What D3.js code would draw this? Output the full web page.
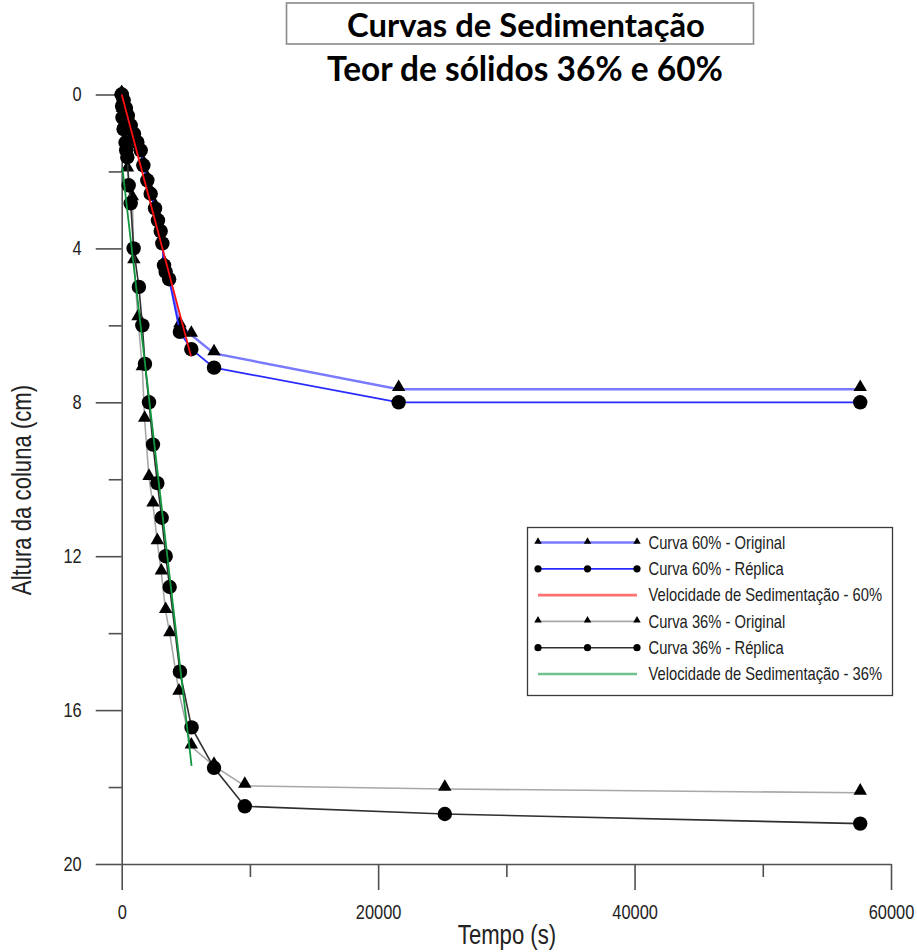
<!DOCTYPE html>
<html><head><meta charset="utf-8">
<script src="https://cdn.jsdelivr.net/npm/d3@7"></script>
<style>body{margin:0;background:#fff} svg{display:block}</style>
</head><body>
<svg id="c" width="917" height="952"></svg>
<script>
// ---------- data ----------
const xTicks = [0, 20000, 40000, 60000];
const xMinor = [10000, 30000, 50000];
const yTicks = [0, 4, 8, 12, 16, 20];
const yMinor = [2, 6, 10, 14, 18];

const t60Orig = [0, 150, 330, 480, 700, 960, 1220, 1480, 1690, 2000, 2260, 2600, 2830, 3040, 3170, 3300, 3430, 3700, 4540, 5430, 7200, 21600, 57600];
const h60Orig = [0, 0.15, 0.35, 0.55, 0.78, 1.0, 1.2, 1.42, 1.8, 2.2, 2.55, 2.92, 3.22, 3.5, 3.82, 4.4, 4.56, 4.75, 6.0, 6.25, 6.73, 7.66, 7.66];

const t60Rep = [0, 150, 330, 480, 700, 960, 1220, 1480, 1690, 2000, 2260, 2600, 2830, 3040, 3170, 3300, 3430, 3700, 4540, 5430, 7200, 21600, 57600];
const h60Rep = [0, 0.15, 0.35, 0.55, 0.8, 1.02, 1.24, 1.45, 1.84, 2.23, 2.58, 2.96, 3.27, 3.55, 3.87, 4.44, 4.61, 4.8, 6.17, 6.62, 7.1, 8.0, 8.0];

const tVel60 = [0, 5400];
const hVel60 = [0, 6.8];

const t36Orig = [0, 50, 120, 310, 450, 830, 950, 1270, 1610, 1790, 2130, 2440, 2780, 3090, 3430, 3760, 4470, 5430, 7200, 9600, 25200, 57600];
const h36Orig = [0, 0.4, 0.8, 1.27, 1.95, 2.7, 4.34, 5.82, 7.12, 8.46, 9.97, 10.66, 11.64, 12.43, 13.43, 14.03, 15.55, 16.95, 17.45, 17.97, 18.05, 18.15];

const t36Rep = [0, 30, 60, 150, 300, 350, 440, 545, 700, 930, 1340, 1610, 1815, 2130, 2440, 2780, 3120, 3430, 3740, 4540, 5450, 7200, 9600, 25200, 57600];
const h36Rep = [0, 0.3, 0.6, 0.9, 1.25, 1.45, 1.63, 2.36, 2.83, 4.0, 5.0, 6.0, 7.0, 8.0, 9.1, 10.1, 11.0, 12.0, 12.8, 15.0, 16.45, 17.5, 18.5, 18.7, 18.95];

const tVel36 = [50, 5450];
const hVel36 = [1.9, 17.45];

const legendLabels = ["Curva 60% - Original", "Curva 60% - Réplica", "Velocidade de Sedimentação - 60%",
                      "Curva 36% - Original", "Curva 36% - Réplica", "Velocidade de Sedimentação - 36%"];
const titleText = "Curvas de Sedimentação";
const subtitleText = "Teor de sólidos 36% e 60%";
const xTitle = "Tempo (s)";
const yTitle = "Altura da coluna (cm)";

// ---------- helpers ----------
function hasFont(name){
  const c = document.createElement('canvas').getContext('2d');
  c.font = "40px monospace"; const a = c.measureText("Velocidade 0123 mm").width;
  c.font = `40px '${name}', monospace`; const b = c.measureText("Velocidade 0123 mm").width;
  return Math.abs(a-b) > 1;
}
const NARROW = hasFont('Liberation Sans Narrow');
const NF = NARROW ? "'Liberation Sans Narrow', 'Liberation Sans', Arial, sans-serif" : "'Liberation Sans', Arial, sans-serif";
const SX = NARROW ? 1 : 0.82;

const zip = (ts, hs) => ts.map((t,i)=>({t, h: hs[i]}));

const svg = d3.select('#c');
const x = d3.scaleLinear().domain([0, 60000]).range([121.7, 891]);
const y = d3.scaleLinear().domain([0, 20]).range([94.5, 864]);

const AX = "#505050";

function ntext(parent, px, py, str, size, anchor, rot){
  const g = parent.append('g').attr('transform', `translate(${px},${py})` + (rot ? ` rotate(${rot})` : '') + ` scale(${SX},1)`);
  return g.append('text').attr('x',0).attr('y',0).attr('font-family', NF).attr('font-size', size)
    .attr('text-anchor', anchor).attr('fill', '#222').text(str);
}

// ---------- title ----------
svg.append('rect').attr('x', 286.5).attr('y', 3).attr('width', 467).attr('height', 41)
  .attr('fill', 'none').attr('stroke', '#8a8a8a').attr('stroke-width', 1.6);
function fit(sel, target){
  const w = sel.node().getComputedTextLength();
  sel.attr('font-size', parseFloat(sel.attr('font-size')) * target / w);
}
const t1 = svg.append('text').attr('x', 526).attr('y', 37).attr('text-anchor','middle')
  .attr('font-family', "Lato, 'Open Sans', sans-serif").attr('font-weight', 'bold').attr('font-size', 30).attr('fill','#000').text(titleText);
fit(t1, 358);
const t2 = svg.append('text').attr('x', 525).attr('y', 81).attr('text-anchor','middle')
  .attr('font-family', "Lato, 'Open Sans', sans-serif").attr('font-weight', 'bold').attr('font-size', 30).attr('fill','#000').text(subtitleText);
fit(t2, 396);

// ---------- axes ----------
function styleAxis(g){
  g.selectAll('path.domain').attr('stroke', AX).attr('stroke-width', 1.6);
  g.selectAll('.tick line').attr('stroke', AX).attr('stroke-width', 1.6);
}
const gx = svg.append('g').attr('transform', `translate(0,${y(20)})`);
gx.call(d3.axisBottom(x).tickValues(xTicks).tickSize(26).tickSizeOuter(0).tickPadding(15).tickFormat(d3.format('d')));
const gxm = svg.append('g').attr('transform', `translate(0,${y(20)})`);
gxm.call(d3.axisBottom(x).tickValues(xMinor).tickSize(13).tickSizeOuter(0).tickFormat(''));
gxm.select('path.domain').remove();
const gy = svg.append('g').attr('transform', `translate(${x(0)},0)`);
gy.call(d3.axisLeft(y).tickValues(yTicks).tickSize(26).tickSizeOuter(0).tickPadding(14).tickFormat(d3.format('d')));
const gym = svg.append('g').attr('transform', `translate(${x(0)},0)`);
gym.call(d3.axisLeft(y).tickValues(yMinor).tickSize(13).tickSizeOuter(0).tickFormat(''));
gym.select('path.domain').remove();
[gx, gxm, gy, gym].forEach(styleAxis);
[gx, gy].forEach(g => g.selectAll('.tick text').attr('font-family', NF).attr('font-size', 20).attr('fill', '#222'));
if (!NARROW){
  gx.selectAll('.tick text').attr('transform', `scale(${SX},1)`);
  gy.selectAll('.tick text').each(function(){ const s=d3.select(this); s.attr('x', parseFloat(s.attr('x'))/SX).attr('transform', `scale(${SX},1)`); });
}

ntext(svg, 507, 944, xTitle, 27, 'middle');
ntext(svg, 31, 490, yTitle, 27, 'middle', -90);

// ---------- series ----------
const line = d3.line().x(d=>x(d.t)).y(d=>y(d.h));
const tri = d3.symbol().type(d3.symbolTriangle);
const plot = svg.append('g');

const series = [
  {name: legendLabels[0], data: zip(t60Orig, h60Orig), color: '#7a7aff', width: 2.4, marker: 'tri'},
  {name: legendLabels[1], data: zip(t60Rep, h60Rep), color: '#2a2aff', width: 1.8, marker: 'circ'},
  {name: legendLabels[2], data: zip(tVel60, hVel60), color: '#ff1010', width: 1.8, marker: null},
  {name: legendLabels[3], data: zip(t36Orig, h36Orig), color: '#a8a8a8', width: 1.6, marker: 'tri'},
  {name: legendLabels[4], data: zip(t36Rep, h36Rep), color: '#303030', width: 1.6, marker: 'circ'},
  {name: legendLabels[5], data: zip(tVel36, hVel36), color: '#12973f', width: 1.8, marker: null},
];

function drawMarkers(g, data, type){
  if (type === 'circ'){
    g.selectAll(null).data(data).join('circle').attr('cx', d=>x(d.t)).attr('cy', d=>y(d.h)).attr('r', 7.2).attr('fill', '#000');
  } else if (type === 'tri'){
    g.selectAll(null).data(data).join('path').attr('d', tri.size(78)()).attr('transform', d=>`translate(${x(d.t)},${y(d.h)-2})`).attr('fill', '#000');
  }
}

series.filter(s => s.marker).forEach(s => {
  const g = plot.append('g');
  g.append('path').datum(s.data).attr('d', line).attr('fill','none').attr('stroke', s.color).attr('stroke-width', s.width);
  drawMarkers(g, s.data, s.marker);
});
series.filter(s => !s.marker).forEach(s => {
  plot.append('path').datum(s.data).attr('d', line).attr('fill','none').attr('stroke', s.color).attr('stroke-width', s.width);
});

// ---------- legend ----------
const lg = svg.append('g');
lg.append('rect').attr('x', 527.5).attr('y', 527.5).attr('width', 365).attr('height', 168)
  .attr('fill', '#fff').attr('stroke', '#3a3a3a').attr('stroke-width', 1.3);
series.forEach((s, i) => {
  const yy = 542.5 + i * 26.3;
  const isVel = !s.marker;
  lg.append('line').attr('x1', 538).attr('x2', 637).attr('y1', yy).attr('y2', yy)
    .attr('stroke', s.color).attr('stroke-width', isVel ? 2.6 : s.width).attr('stroke-opacity', isVel ? 0.6 : 1);
  [538, 587.5, 637].forEach(px => {
    if (s.marker === 'circ') lg.append('circle').attr('cx', px).attr('cy', yy).attr('r', 3.6).attr('fill', '#000');
    else if (s.marker === 'tri') lg.append('path').attr('d', tri.size(24)()).attr('transform', `translate(${px},${yy-1})`).attr('fill', '#000');
  });
  ntext(lg, 648.5, yy + 6.3, s.name, 18, 'start');
});
</script>
</body></html>
